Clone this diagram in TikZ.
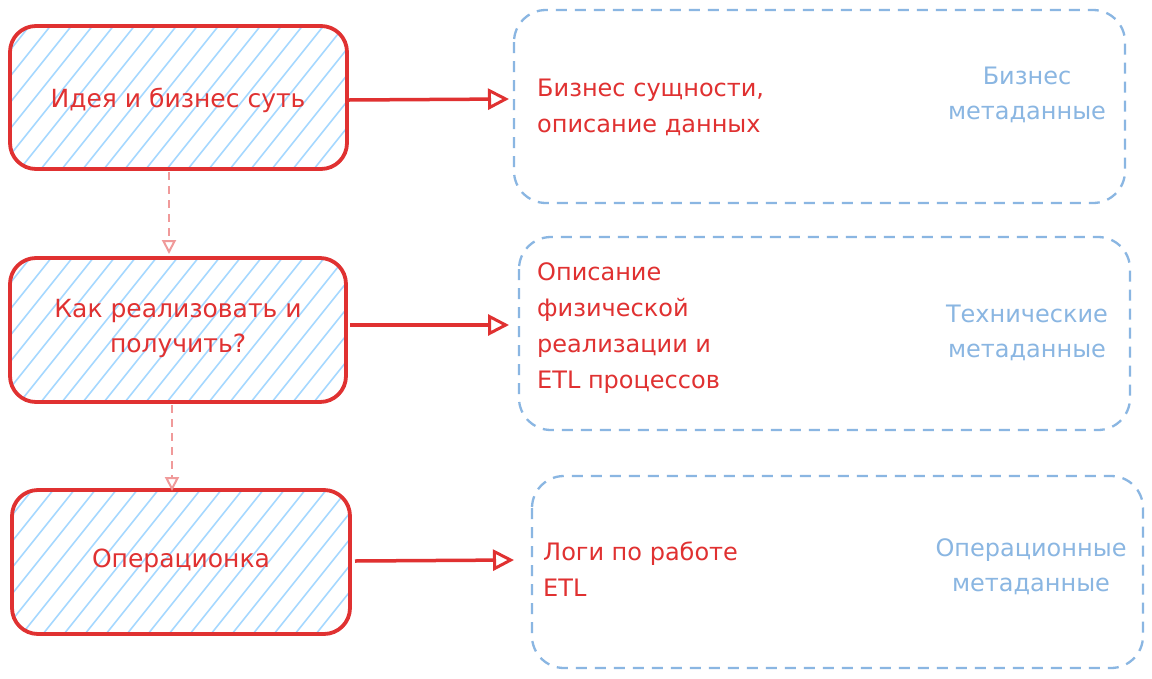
\documentclass[tikz,border=0pt]{standalone}
\usepackage{fontspec}
\setmainfont{DejaVu Sans}
\usetikzlibrary{arrows.meta}
\definecolor{xred}{HTML}{E03131}
\definecolor{xpink}{HTML}{F09A9A}
\definecolor{xhatch}{HTML}{A5D8FF}
\definecolor{xblue}{HTML}{8AB6E2}
\tikzset{
  x=1pt,y=-1pt,
  redtxt/.style={text=xred,font=\fontsize{24}{36}\selectfont,align=left,inner sep=0pt},
  bluetxt/.style={text=xblue,font=\fontsize{24}{35}\selectfont,align=center,inner sep=0pt},
  boxtxt/.style={text=xred,font=\fontsize{25}{35}\selectfont,align=center,inner sep=0pt},
  mainarrow/.style={draw=xred,line width=3.5pt,-{Triangle[open,length=21pt,width=21pt,line width=3pt]}},
  dasharrow/.style={draw=xpink,line width=2pt,dash pattern=on 8pt off 6pt,-{Triangle[open,length=14pt,width=14pt,line width=2pt]}},
  metabox/.style={draw=xblue,line width=2.3pt,dash pattern=on 11pt off 8pt,rounded corners=32pt},
}
\newcommand{\hatchbox}[5]{% name, x1,y1,x2,y2
  \begin{scope}
    \clip[rounded corners=26pt] (#2,#3) rectangle (#4,#5);
    \foreach \k in {-200,-179,...,420} {
      \draw[xhatch,line width=1.6pt] (#2+\k,#5) -- ++(160,-200);
    }
  \end{scope}
  \draw[xred,line width=3.8pt,rounded corners=26pt] (#2,#3) rectangle (#4,#5);
}
\begin{document}
\begin{tikzpicture}
\useasboundingbox[fill=white] (0,0) rectangle (1152,678);

% left boxes
\hatchbox{a}{10}{26}{347}{169}
\hatchbox{b}{10}{258}{346}{402}
\hatchbox{c}{12}{490}{350}{634}

\node[boxtxt] (ta) at (178,100) {Идея и бизнес суть};
\node[boxtxt] (tb) at (178,328.5) {Как реализовать и\\получить?};
\node[boxtxt] (tc) at (181,561) {Операционка};

% right boxes
\draw[metabox] (514,10) rectangle (1125,203);
\draw[metabox] (519,237) rectangle (1130,430);
\draw[metabox] (532,476) rectangle (1143,668);

\node[redtxt,anchor=west] (ra) at (537,107.5) {Бизнес сущности,\\описание данных};
\node[redtxt,anchor=west] (rb) at (537,328.5) {Описание\\физической\\реализации и\\ETL процессов};
\node[redtxt,anchor=west] (rc) at (543,569) {Логи по работе\\ETL};

\node[bluetxt] (ba) at (1027,94.5) {Бизнес\\метаданные};
\node[bluetxt] (bb) at (1027,332.5) {Технические\\метаданные};
\node[bluetxt] (bc) at (1031,566.5) {Операционные\\метаданные};

% connectors
\coordinate (sa) at (349,100);
\coordinate (sb) at (350,325);
\coordinate (sc) at (355,561);
\coordinate (ea) at (509,99);
\coordinate (eb) at (509,325);
\coordinate (ec) at (514,560);
\draw[mainarrow] (sa) -- (ea);
\draw[mainarrow] (sb) -- (eb);
\draw[mainarrow] (sc) -- (ec);

\coordinate (da1) at (169,172);
\coordinate (da2) at (169,254);
\coordinate (db1) at (172,405);
\coordinate (db2) at (172,491);
\draw[dasharrow] (da1) -- (da2);
\draw[dasharrow] (db1) -- (db2);
\end{tikzpicture}
\end{document}
